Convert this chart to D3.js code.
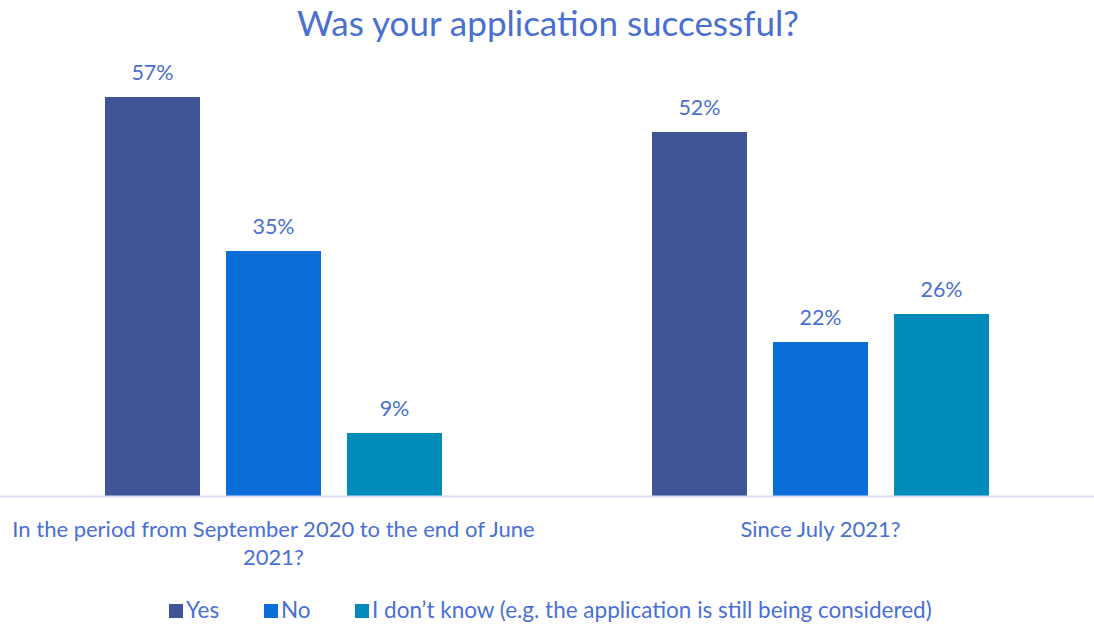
<!DOCTYPE html>
<html>
<head>
<meta charset="utf-8">
<script src="https://cdn.jsdelivr.net/npm/d3@7"></script>
<style>
  html, body { margin: 0; padding: 0; background: #fff; }
  svg text { font-family: Lato, "Open Sans", sans-serif; }
</style>
</head>
<body>
<svg id="chart" width="1094" height="624"></svg>
<script>
// Survey results: share of answers per period
const categories = [
  ["In the period from September 2020 to the end of June", "2021?"],
  ["Since July 2021?"]
];
const seriesNames = ["Yes", "No", "I don\u2019t know (e.g. the application is still being considered)"];
const seriesColors = ["#3F5597", "#0B6ED8", "#008BBA"];
const yesValues = [57, 52];
const noValues = [35, 22];
const dontKnowValues = [9, 26];
const series = [yesValues, noValues, dontKnowValues];

const textColor = "#4A6FD2";
const svg = d3.select("#chart");
const W = 1094;

const plot = { left: 0, right: 1094, top: 70, bottom: 496 };

const x0 = d3.scaleBand()
  .domain(d3.range(categories.length))
  .range([plot.left, plot.right])
  .paddingInner(0)
  .paddingOuter(0);

const x1 = d3.scaleBand()
  .domain(d3.range(series.length))
  .range([0, 337])
  .paddingInner(0.215)
  .paddingOuter(0);

const y = d3.scaleLinear().domain([0, 60]).range([plot.bottom, plot.bottom - 420]);

// Title
svg.append("text")
  .attr("x", 548)
  .attr("y", 36)
  .attr("text-anchor", "middle")
  .attr("fill", textColor)
  .style("font-size", "35px")
  .text("Was your application successful?");

// Bars and value labels
const groups = svg.selectAll("g.grp")
  .data(categories.map((c, i) => i))
  .join("g")
  .attr("class", "grp")
  .attr("transform", i => `translate(${x0(i) + x0.bandwidth() / 2 - 168.5},0)`);

groups.each(function (ci) {
  const g = d3.select(this);
  series.forEach((vals, si) => {
    const v = vals[ci];
    g.append("rect")
      .attr("x", x1(si))
      .attr("y", y(v))
      .attr("width", x1.bandwidth())
      .attr("height", y(0) - y(v))
      .attr("fill", seriesColors[si]);
    g.append("text")
      .attr("x", x1(si) + x1.bandwidth() / 2)
      .attr("y", y(v) - 17)
      .attr("text-anchor", "middle")
      .attr("fill", textColor)
      .style("font-size", "21.5px")
      .text(v + "%");
  });
});

// Baseline axis
svg.append("line")
  .attr("x1", plot.left)
  .attr("x2", plot.right)
  .attr("y1", y(0) + 0.5)
  .attr("y2", y(0) + 0.5)
  .attr("stroke", "#D9E0F2")
  .attr("stroke-width", 2);

// Category labels
categories.forEach((lines, ci) => {
  const cx = x0(ci) + x0.bandwidth() / 2;
  const t = svg.append("text")
    .attr("text-anchor", "middle")
    .attr("fill", textColor)
    .style("font-size", "22px");
  lines.forEach((ln, li) => {
    t.append("tspan")
      .attr("x", cx)
      .attr("y", 537 + li * 28)
      .text(ln);
  });
});

// Legend
const legendX = [169, 264, 355];
const legend = svg.append("g");
seriesNames.forEach((name, i) => {
  legend.append("rect")
    .attr("x", legendX[i])
    .attr("y", 604)
    .attr("width", 14)
    .attr("height", 14)
    .attr("fill", seriesColors[i]);
  legend.append("text")
    .attr("x", legendX[i] + 17)
    .attr("y", 618)
    .attr("fill", textColor)
    .style("font-size", "22.5px")
    .text(name);
});
</script>
</body>
</html>
